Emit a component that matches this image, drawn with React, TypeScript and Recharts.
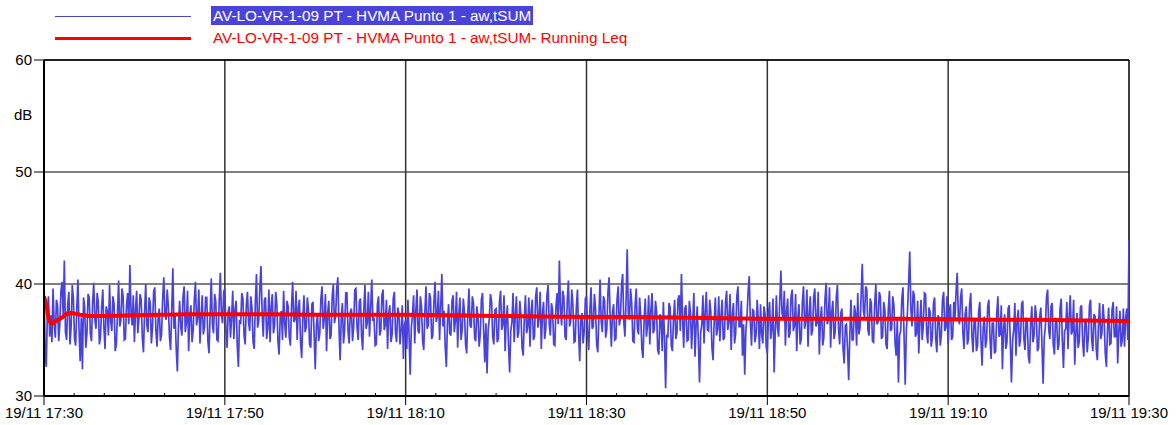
import React from "react";
import { LineChart, Line, XAxis, YAxis, CartesianGrid, ReferenceLine } from "recharts";

// minutes after 19/11 17:30, one sample every 7.5 s (40 per row = 5 min)
const STEP_MIN = 0.125;

const levelDb: number[] = [
  // 17:30 - 17:50
  40.5, 34.0, 32.6, 37.4, 38.9, 35.3, 37.2, 34.8, 39.6, 36.5, 35.2, 38.6, 38.1, 34.9, 36.4, 39.4, 40.2, 37.1, 42.1, 35.7, 35.0, 38.2, 39.3, 34.6, 36.2, 39.9, 38.7, 35.1, 34.5, 37.8, 40.4, 35.9, 33.1, 37.0, 32.4, 38.8, 37.9, 34.3, 35.6, 39.1,
  38.8, 35.6, 34.9, 38.3, 40.1, 36.8, 36.0, 39.2, 38.4, 34.6, 35.3, 37.9, 39.5, 36.1, 34.2, 38.0, 37.6, 35.4, 39.9, 36.7, 35.8, 38.9, 38.2, 34.0, 34.6, 37.3, 40.3, 36.2, 36.7, 39.6, 38.9, 35.0, 35.1, 38.1, 39.2, 36.4, 41.7, 37.5, 36.3, 39.0,
  34.8, 37.7, 39.4, 35.6, 36.9, 39.1, 38.6, 35.2, 33.9, 37.5, 40.0, 36.3, 35.7, 38.8, 38.3, 34.7, 36.1, 39.3, 39.7, 35.9, 34.4, 37.0, 37.8, 34.9, 35.5, 38.7, 40.6, 37.3, 36.8, 39.5, 38.0, 35.3, 34.1, 37.6, 41.4, 36.0, 37.2, 34.2, 32.2, 36.4,
  38.5, 36.2, 35.4, 38.9, 39.8, 35.7, 36.6, 39.4, 34.0, 37.1, 38.1, 34.8, 35.9, 38.6, 40.2, 36.3, 37.0, 39.5, 34.7, 36.9, 39.0, 35.5, 36.2, 38.8, 38.8, 34.9, 33.8, 37.4, 40.5, 36.4, 35.6, 39.1, 38.4, 35.0, 34.9, 38.3, 41.0, 37.2, 36.5, 39.3,
  // 17:50 - 18:10
  39.6, 35.8, 34.3, 37.6, 38.0, 35.2, 37.0, 39.4, 35.1, 37.7, 38.5, 34.5, 32.6, 36.8, 36.4, 39.2, 38.7, 35.4, 34.6, 38.1, 39.3, 36.6, 35.8, 38.9, 37.9, 34.8, 34.2, 38.4, 40.9, 36.1, 36.7, 39.7, 41.6, 37.3, 35.3, 38.6, 38.8, 35.1, 36.0, 39.5,
  34.8, 38.0, 39.1, 35.6, 36.3, 39.3, 38.2, 34.9, 33.7, 37.1, 37.6, 35.0, 39.4, 36.4, 35.2, 38.5, 38.0, 35.3, 34.5, 37.9, 40.2, 36.6, 36.8, 39.4, 35.0, 37.8, 38.6, 34.8, 33.4, 36.9, 39.0, 35.7, 36.1, 38.8, 37.7, 34.6, 34.3, 38.2, 38.4, 35.5,
  32.4, 36.3, 37.3, 34.9, 35.6, 38.7, 39.8, 36.0, 36.9, 39.1, 34.0, 37.4, 38.5, 35.1, 35.4, 38.9, 40.0, 36.5, 37.1, 39.6, 40.6, 36.2, 33.2, 37.0, 38.3, 34.7, 35.9, 39.2, 39.2, 35.8, 34.7, 37.5, 37.8, 34.9, 36.2, 39.5, 39.6, 36.1, 35.0, 38.4,
  38.7, 35.3, 34.1, 37.8, 39.9, 36.0, 36.5, 39.3, 35.3, 37.9, 40.4, 36.7, 37.0, 34.5, 34.6, 38.2, 38.9, 35.4, 35.8, 39.0, 39.5, 35.9, 36.3, 38.6, 34.2, 37.3, 38.1, 34.8, 35.5, 38.7, 39.3, 35.6, 34.8, 37.9, 37.4, 34.6, 35.9, 38.1, 33.3, 36.4,
  // 18:10 - 18:30
  36.8, 34.2, 38.6, 35.5, 31.9, 36.1, 37.2, 39.0, 34.7, 37.6, 39.5, 35.8, 35.6, 38.9, 38.0, 34.9, 34.1, 37.5, 39.8, 36.0, 36.3, 39.2, 38.7, 35.1, 35.4, 38.4, 40.2, 36.6, 37.1, 39.4, 35.0, 37.9, 40.9, 36.2, 37.6, 34.4, 32.6, 36.7, 38.2, 35.6,
  35.4, 38.5, 39.0, 35.7, 36.7, 39.3, 34.3, 37.2, 38.8, 35.0, 35.9, 38.7, 37.5, 34.6, 33.8, 37.4, 39.6, 36.3, 36.1, 38.9, 38.3, 35.2, 34.9, 38.0, 37.0, 34.4, 35.5, 38.6, 39.2, 35.8, 33.0, 36.5, 32.0, 35.9, 36.9, 39.1, 38.5, 35.3, 34.6, 37.7,
  37.8, 34.8, 35.1, 38.4, 39.4, 35.9, 36.4, 39.0, 34.0, 36.8, 38.1, 34.5, 32.1, 35.8, 36.6, 39.2, 34.8, 37.3, 38.9, 35.2, 35.7, 38.5, 37.3, 34.3, 33.6, 37.1, 39.0, 35.6, 36.2, 38.8, 34.4, 37.6, 38.6, 35.0, 35.3, 38.9, 39.7, 36.1, 36.9, 39.3,
  34.2, 37.4, 38.4, 35.1, 36.0, 39.0, 39.9, 36.5, 35.4, 38.3, 37.7, 34.6, 34.5, 38.0, 39.2, 36.4, 42.1, 37.8, 36.3, 39.4, 38.8, 35.3, 35.0, 38.6, 40.3, 36.2, 36.7, 39.5, 38.1, 34.8, 34.9, 37.9, 39.5, 35.6, 33.1, 36.9, 37.4, 34.7, 35.8, 38.7,
  // 18:30 - 18:50
  38.9, 35.4, 34.1, 37.6, 39.7, 36.0, 36.2, 39.1, 37.8, 34.6, 33.9, 37.2, 40.4, 36.7, 35.7, 38.9, 38.5, 35.2, 36.0, 39.3, 40.6, 36.8, 34.4, 37.5, 38.2, 35.0, 35.1, 38.6, 39.8, 36.3, 36.9, 39.9, 40.9, 36.6, 35.3, 38.4, 43.1, 37.4, 36.8, 39.6,
  38.3, 34.9, 34.8, 38.1, 39.6, 36.0, 35.5, 38.8, 37.1, 34.2, 33.4, 36.9, 38.7, 35.3, 36.3, 39.0, 34.6, 37.7, 39.2, 35.6, 35.9, 38.5, 37.6, 34.1, 33.7, 37.3, 36.8, 34.0, 38.4, 35.2, 30.7, 35.5, 35.2, 38.3, 37.9, 34.5, 34.0, 37.0, 38.6, 35.1,
  35.6, 38.7, 39.0, 35.8, 40.9, 36.9, 34.3, 37.8, 38.1, 34.9, 35.0, 38.5, 37.4, 34.2, 36.6, 39.2, 33.5, 36.3, 38.0, 34.8, 31.2, 35.6, 36.4, 39.0, 34.7, 37.5, 39.3, 35.9, 35.8, 38.6, 37.5, 34.3, 33.2, 36.8, 38.8, 35.4, 36.0, 38.9, 34.9, 37.1,
  38.6, 35.0, 35.2, 38.4, 39.4, 35.9, 36.7, 39.1, 34.1, 37.2, 38.3, 34.7, 35.6, 38.9, 39.8, 36.2, 36.2, 38.5, 33.6, 36.4, 31.9, 35.8, 37.1, 39.3, 40.7, 36.6, 34.5, 37.7, 37.6, 34.8, 35.4, 38.6, 36.8, 34.2, 38.2, 35.5, 34.7, 38.0, 37.3, 34.4,
  // 18:50 - 19:10
  33.8, 37.2, 38.4, 35.1, 36.0, 38.7, 32.1, 35.7, 39.0, 36.1, 35.3, 38.5, 41.2, 37.4, 36.9, 39.4, 34.5, 37.6, 38.7, 35.2, 35.6, 38.9, 39.5, 35.8, 36.3, 39.1, 34.0, 37.0, 38.2, 34.6, 35.1, 38.4, 39.8, 36.0, 36.7, 39.5, 34.4, 37.3, 38.9, 35.4,
  35.9, 38.8, 39.6, 36.2, 36.5, 39.3, 33.7, 36.9, 38.0, 34.5, 35.2, 38.6, 40.1, 36.4, 36.8, 39.7, 34.3, 37.5, 38.5, 35.1, 35.7, 38.8, 39.9, 36.0, 34.6, 37.4, 37.8, 34.2, 32.9, 36.3, 36.4, 34.1, 31.4, 35.6, 38.6, 35.0, 35.0, 38.1, 37.4, 34.5,
  39.2, 35.5, 36.1, 39.0, 41.8, 37.6, 37.0, 39.8, 39.5, 35.9, 35.4, 38.7, 38.3, 34.9, 34.8, 38.2, 40.0, 36.4, 36.6, 39.3, 38.9, 35.1, 35.3, 38.4, 37.7, 34.6, 34.2, 37.6, 39.4, 35.8, 36.0, 38.9, 38.1, 34.7, 33.6, 36.9, 31.2, 35.4, 35.8, 38.7,
  39.7, 35.2, 31.0, 35.9, 37.5, 40.1, 42.9, 37.8, 36.2, 39.4, 39.0, 35.3, 35.6, 38.5, 33.8, 36.7, 38.6, 35.0, 36.3, 39.2, 39.1, 35.6, 34.7, 37.9, 37.5, 34.4, 35.2, 38.3, 38.8, 35.1, 33.9, 37.2, 37.0, 34.5, 35.5, 38.6, 39.3, 35.8, 36.1, 38.9,
  // 19:10 - 19:30
  34.6, 37.5, 38.2, 35.0, 35.3, 38.4, 36.9, 39.3, 41.0, 37.1, 36.4, 38.8, 39.6, 35.7, 34.2, 37.3, 38.0, 34.6, 35.1, 38.2, 39.2, 35.4, 33.9, 36.8, 36.8, 34.0, 34.5, 37.6, 38.4, 35.0, 32.7, 36.1, 37.1, 34.3, 35.0, 38.0, 38.6, 35.2, 33.3, 36.5,
  36.5, 33.8, 34.0, 37.4, 38.9, 35.3, 35.5, 38.1, 32.4, 35.9, 37.3, 34.2, 34.8, 37.8, 38.1, 34.7, 31.2, 34.9, 35.9, 38.3, 33.6, 36.7, 37.7, 34.4, 35.0, 38.2, 38.5, 35.1, 34.1, 37.0, 36.6, 33.5, 32.9, 36.4, 38.0, 34.8, 35.4, 38.1, 37.2, 34.0,
  34.3, 37.1, 37.9, 34.5, 31.1, 35.2, 36.2, 38.8, 39.5, 35.9, 35.1, 38.0, 38.3, 34.6, 33.7, 36.9, 36.8, 34.1, 34.6, 37.8, 38.7, 35.0, 32.5, 35.8, 36.0, 38.4, 34.2, 37.0, 39.0, 35.5, 35.8, 38.6, 32.8, 35.6, 37.4, 34.3, 34.9, 37.9, 38.1, 34.8,
  33.5, 36.6, 36.9, 33.9, 35.2, 38.1, 38.6, 35.0, 34.0, 37.3, 37.1, 34.2, 33.2, 36.4, 38.3, 35.1, 35.6, 38.2, 36.8, 33.8, 32.6, 36.0, 37.9, 34.6, 34.7, 37.7, 38.4, 35.3, 35.3, 38.0, 32.9, 35.8, 37.6, 34.4, 35.0, 37.8, 34.4, 36.9, 37.8, 35.0,
  43.9,
];

const leqMinutes = [0, 0.25, 0.5, 0.75, 1, 1.5, 2, 2.5, 3, 3.5, 4, 5, 7, 10, 13, 16, 20, 25, 30, 35, 40, 45, 50, 55, 60, 65, 70, 75, 80, 85, 90, 95, 100, 105, 110, 115, 120];
const leqDb = [38.9, 38.2, 36.9, 36.5, 36.5, 36.8, 37.0, 37.35, 37.4, 37.35, 37.25, 37.15, 37.15, 37.2, 37.25, 37.3, 37.3, 37.3, 37.25, 37.25, 37.25, 37.2, 37.15, 37.1, 37.05, 37.05, 37.0, 36.95, 36.9, 36.9, 36.9, 36.9, 36.85, 36.8, 36.8, 36.75, 36.7];

const majorTicks = [0, 20, 40, 60, 80, 100, 120];
const majorLabels = ["19/11 17:30", "19/11 17:50", "19/11 18:10", "19/11 18:30", "19/11 18:50", "19/11 19:10", "19/11 19:30"];
const yTicks = [30, 40, 50, 60];

const seriesName = "AV-LO-VR-1-09 PT - HVMA Punto 1 - aw,tSUM";
const leqName = "AV-LO-VR-1-09 PT - HVMA Punto 1 - aw,tSUM- Running Leq";

const levelData = levelDb.map((v, i) => ({ t: i * STEP_MIN, v }));
const leqData = leqMinutes.map((t, i) => ({ t, v: leqDb[i] }));

// minor ticks every 200 s
const allTicks: number[] = [];
for (let i = 0; i <= 36; i++) allTicks.push(Math.round((i * 10) / 3 * 1000) / 1000);

const BLUE = "#4a43db";
const RED = "#ff0000";
const FONT = "'Liberation Sans', Arial, sans-serif";

const XTick = (props: any) => {
  const { x, y, payload } = props;
  const idx = majorTicks.findIndex((m) => Math.abs(m - payload.value) < 0.01);
  if (idx < 0) {
    return <line x1={x} x2={x} y1={y - 3} y2={y} stroke="#000" strokeWidth={1} />;
  }
  return (
    <g>
      <line x1={x} x2={x} y1={y} y2={y + 9} stroke="#000" strokeWidth={1} />
      <text x={x} y={y + 22} textAnchor="middle" fontSize={15} fill="#000" fontFamily={FONT}>
        {majorLabels[idx]}
      </text>
    </g>
  );
};

export default function App() {
  return (
    <div style={{ position: "absolute", left: 0, top: 0, width: 1176, height: 425, background: "#fff", fontFamily: FONT }}>
      <div style={{ position: "absolute", left: 55, top: 16, width: 136, height: 1, background: BLUE }} />
      <div style={{ position: "absolute", left: 211, top: 6, height: 19, lineHeight: "19px", padding: "0 2px", background: BLUE, color: "#fff", fontSize: 15.3 }}>
        {seriesName}
      </div>
      <div style={{ position: "absolute", left: 55, top: 37, width: 136, height: 3, background: RED }} />
      <div style={{ position: "absolute", left: 213, top: 28, height: 19, lineHeight: "19px", color: RED, fontSize: 15.3 }}>
        {leqName}
      </div>
      <div style={{ position: "absolute", left: 14, top: 106, fontSize: 15 }}>dB</div>
      <LineChart width={1176} height={425} margin={{ top: 60, right: 47, left: 4, bottom: 0 }}>
        <CartesianGrid vertical={false} stroke="#555" strokeWidth={1.5} />
        {majorTicks.slice(1).map((t) => (
          <ReferenceLine key={t} x={t} stroke={t === 120 ? "#000" : "#333"} strokeWidth={1.5} />
        ))}
        <ReferenceLine y={60} stroke="#000" strokeWidth={1.5} />
        <XAxis
          dataKey="t"
          type="number"
          domain={[0, 120]}
          ticks={allTicks}
          interval={0}
          tickLine={false}
          tickSize={0}
          tickMargin={0}
          tick={<XTick />}
          axisLine={{ stroke: "#000", strokeWidth: 2 }}
          height={29}
          allowDataOverflow
        />
        <YAxis
          type="number"
          domain={[30, 60]}
          ticks={yTicks}
          width={40}
          tickSize={10}
          tickMargin={2}
          tickLine={{ stroke: "#000" }}
          axisLine={{ stroke: "#000", strokeWidth: 2 }}
          tick={{ fill: "#000", fontSize: 15, fontFamily: FONT }}
        />
        <Line data={levelData} dataKey="v" type="linear" stroke={BLUE} strokeWidth={1.7} dot={false} isAnimationActive={false} />
        <Line data={leqData} dataKey="v" type="linear" stroke={RED} strokeWidth={4} dot={false} isAnimationActive={false} />
      </LineChart>
    </div>
  );
}
